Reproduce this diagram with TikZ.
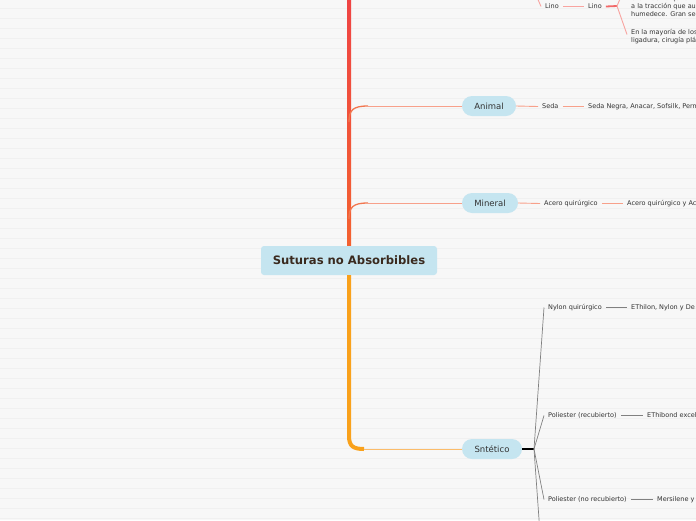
\documentclass[tikz,border=0pt]{standalone}
\usepackage{fontspec}
\setmainfont{DejaVu Sans}
\definecolor{bgc}{HTML}{F7F7F7}
\definecolor{stripec}{HTML}{F0F0F0}
\definecolor{nodefill}{HTML}{C5E5F0}
\definecolor{titlec}{HTML}{3A2A1F}
\definecolor{txtc}{HTML}{333333}
\definecolor{trunkTop}{HTML}{EF4444}
\definecolor{trunkMid}{HTML}{F3622F}
\definecolor{trunkLow}{HTML}{F9A11B}
\definecolor{salmonc}{HTML}{F7A08A}
\definecolor{salmondark}{HTML}{F2764F}
\definecolor{linored}{HTML}{F26868}
\definecolor{linopink}{HTML}{F8A4A0}
\definecolor{grayc}{HTML}{808080}
\definecolor{sintc}{HTML}{FBBC6A}
\usetikzlibrary{calc}
\tikzset{
  pill/.style={fill=nodefill, rounded corners=10pt, minimum height=20pt, inner sep=0pt, text=txtc, font=\fontsize{8.5}{10}\selectfont},
  small/.style={anchor=west, inner xsep=4pt, inner ysep=1pt, text=txtc, font=\fontsize{6.5}{8}\selectfont},
  block/.style={anchor=west, inner xsep=4pt, inner ysep=0pt, text=txtc, align=left, font=\fontsize{6.5}{8}\selectfont},
  salmonline/.style={draw=salmonc, line width=0.9pt},
  pinkline/.style={draw=linopink, line width=0.9pt},
  grayline/.style={draw=grayc, line width=0.7pt},
}
\begin{document}
\begin{tikzpicture}[x=1pt,y=-1pt]
\useasboundingbox (0,0) rectangle (696,520);
\clip (0,0) rectangle (696,520);
\fill[bgc] (0,0) rectangle (696,520);
\foreach \k in {0,...,51} \draw[stripec, line width=1pt] (0,8.5+10*\k) -- (696,8.5+10*\k);

% trunk
\shade[top color=trunkTop, bottom color=trunkMid] (347,-2) rectangle (351,252);

% nodes
\node[fill=nodefill, rounded corners=3pt, minimum width=176pt, minimum height=29pt, inner sep=0pt,
      text=titlec, font=\bfseries\fontsize{11.6}{13}\selectfont] (root) at (349,260.5) {Suturas no Absorbibles};
\node[pill, minimum width=54pt] (animal) at (489,106) {Animal};
\node[pill, minimum width=56pt] (mineral) at (490,203) {Mineral};
\node[pill, minimum width=60pt] (sint) at (492,449) {Sntético};

% branch curves from trunk
\coordinate (a0) at (349,122);
\coordinate (m0) at (349,219);
\draw[salmondark, line width=1.3pt] (a0) .. controls (349,110) and (353,106) .. (368,106);
\draw[salmonline] (368,106) -- (animal.west);
\draw[salmondark, line width=1.3pt] (m0) .. controls (349,207) and (353,203) .. (368,203);
\draw[salmonline] (368,203) -- (mineral.west);
\draw[trunkLow, line width=4pt] (root.south -| 349,0) -- (349,436) .. controls (349,446) and (353,449) .. (364,449);
\draw[sintc, line width=1pt] (364,449) -- (sint.west);

% Animal chain
\node[small] (seda) at (538,106.5) {Seda};
\node[small] (sedan) at (584,106.5) {Seda Negra, Anacar, Sofsilk, Perm};
\draw[salmonline] (animal.east) -- (seda.west);
\draw[salmonline] (seda.east) -- (sedan.west);

% Mineral chain
\node[small] (acero) at (540,203.5) {Acero quirúrgico};
\node[small] (acero2) at (623,203.5) {Acero quirúrgico y Ac};
\draw[salmonline] (mineral.east) -- (acero.west);
\draw[salmonline] (acero.east) -- (acero2.west);

% Lino (top)
\coordinate (vegin) at (536.5,-4);
\node[small] (lino1) at (541,6.5) {Lino};
\node[small] (lino2) at (584,6.5) {Lino};
\coordinate (lfork) at (617,6);
\coordinate (blk1in) at (623,-8);
\node[block] (blk1) at (627,6.5) {Gran fuerza quirú\\a la tracción que au\\humedece. Gran seg};
\node[block] (blk2) at (627,36.5) {En la mayoría de los\\ligadura, cirugía plá};
\draw[pinkline] (vegin) -- (lino1.west);
\draw[pinkline] (lino1.east) -- (lino2.west);
\draw[linored, line width=1.8pt] (lino2.east) -- (lfork);
\draw[pinkline] (lfork) -- (blk1in);
\draw[pinkline] (lfork) -- ($(blk2.west)+(0,-2)$);

% Sintetico chain
\coordinate (sfork) at (534,449);
\coordinate (sdown) at (539.5,526);
\node[small] (nylon) at (544,307.5) {Nylon quirúrgico};
\node[small] (ethilon) at (627,307.5) {EThilon, Nylon y De};
\node[small] (polrec) at (544,415.5) {Poliester (recubierto)};
\node[small] (ethibond) at (643,415.5) {EThibond excel};
\node[small] (polnorec) at (544,499.5) {Poliester (no recubierto)};
\node[small] (mersilene) at (653,499.5) {Mersilene y};
\draw[black, line width=1.3pt] (sint.east) -- (sfork);
\draw[grayline] (sfork) -- (nylon.west);
\draw[grayline] (sfork) -- (polrec.west);
\draw[grayline] (sfork) -- (polnorec.west);
\draw[grayline] (sfork) -- (sdown);
\draw[grayline] (nylon.east) -- (ethilon.west);
\draw[grayline] (polrec.east) -- (ethibond.west);
\draw[grayline] (polnorec.east) -- (mersilene.west);
\end{tikzpicture}
\end{document}
